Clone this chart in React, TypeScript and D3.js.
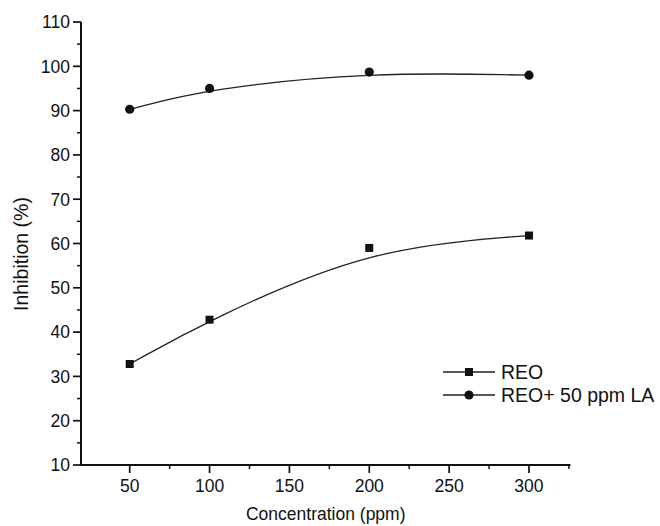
import React from "react";
import * as d3 from "d3";

// Concentration levels (ppm)
const concentrations = [50, 100, 200, 300];
// Inhibition (%) for rosemary essential oil alone
const reoValues = [32.8, 42.8, 59.0, 61.8];
// Inhibition (%) for REO combined with 50 ppm lauric acid
const reoLaValues = [90.3, 95.0, 98.7, 98.0];

const xTicks = [50, 100, 150, 200, 250, 300];
const xMinorTicks = [75, 125, 175, 225, 275, 325];
const yTicks = [10, 20, 30, 40, 50, 60, 70, 80, 90, 100, 110];
const yMinorTicks = [15, 25, 35, 45, 55, 65, 75, 85, 95, 105];

const seriesNames = ["REO", "REO+ 50 ppm LA"];

const W = 660;
const H = 526;

export default function App() {
  const x = d3.scaleLinear().domain([19.5, 326]).range([81, 570.5]);
  const y = d3.scaleLinear().domain([10, 110]).range([465, 22]);
  const x0 = x(19.5);

  // B-spline through the data points as control points
  const spline = d3
    .line<number>()
    .x((_, i) => x(concentrations[i]))
    .curve(d3.curveBasis);

  const pathReo = spline.y((d) => y(d))(reoValues) || "";
  const pathLa = spline.y((d) => y(d))(reoLaValues) || "";

  const font = "Liberation Sans, Arial, Helvetica, sans-serif";
  const ink = "#111";

  const legendX1 = 443;
  const legendX2 = 495;
  const legendRows = [372, 395];

  return (
    <svg
      width={W}
      height={H}
      style={{ position: "absolute", left: 0, top: 0, background: "#fff" }}
      fontFamily={font}
    >
      {/* smoothed connecting curves */}
      <path d={pathReo} fill="none" stroke="#222" strokeWidth={1.3} />
      <path d={pathLa} fill="none" stroke="#222" strokeWidth={1.3} />

      {/* data markers */}
      {concentrations.map((c, i) => (
        <rect
          key={"s" + c}
          x={x(c) - 4}
          y={y(reoValues[i]) - 4}
          width={8}
          height={8}
          fill={ink}
        />
      ))}
      {concentrations.map((c, i) => (
        <circle key={"c" + c} cx={x(c)} cy={y(reoLaValues[i])} r={4.6} fill={ink} />
      ))}

      {/* y axis */}
      <line x1={x0} x2={x0} y1={y(110)} y2={y(10)} stroke={ink} strokeWidth={2} />
      {yTicks.map((t) => (
        <g key={"yt" + t}>
          <line x1={x0 - 8} x2={x0} y1={y(t)} y2={y(t)} stroke={ink} strokeWidth={1.7} />
          <text
            x={x0 - 11}
            y={y(t)}
            dy="0.36em"
            textAnchor="end"
            fontSize={17.5}
            fill={ink}
          >
            {t}
          </text>
        </g>
      ))}
      {yMinorTicks.map((t) => (
        <line key={"ym" + t} x1={x0 - 4} x2={x0} y1={y(t)} y2={y(t)} stroke={ink} strokeWidth={1.5} />
      ))}

      {/* x axis */}
      <line x1={x0 - 1} x2={x(326)} y1={y(10)} y2={y(10)} stroke={ink} strokeWidth={2} />
      {xTicks.map((t) => (
        <g key={"xt" + t}>
          <line x1={x(t)} x2={x(t)} y1={y(10)} y2={y(10) + 8} stroke={ink} strokeWidth={1.7} />
          <text x={x(t)} y={y(10) + 26.5} textAnchor="middle" fontSize={17.5} fill={ink}>
            {t}
          </text>
        </g>
      ))}
      {xMinorTicks.map((t) => (
        <line key={"xm" + t} x1={x(t)} x2={x(t)} y1={y(10)} y2={y(10) + 4} stroke={ink} strokeWidth={1.5} />
      ))}

      {/* axis titles */}
      <text
        x={(x0 + x(326)) / 2}
        y={520}
        textAnchor="middle"
        fontSize={17.5}
        fill={ink}
      >
        Concentration (ppm)
      </text>
      <text
        transform={`translate(28, ${254}) rotate(-90)`}
        textAnchor="middle"
        fontSize={19.5}
        fill={ink}
      >
        Inhibition (%)
      </text>

      {/* legend */}
      {seriesNames.map((name, i) => {
        const ly = legendRows[i];
        const cx = (legendX1 + legendX2) / 2;
        return (
          <g key={name}>
            <line x1={legendX1} x2={legendX2} y1={ly} y2={ly} stroke="#222" strokeWidth={1.3} />
            {i === 0 ? (
              <rect x={cx - 4} y={ly - 4} width={8} height={8} fill={ink} />
            ) : (
              <circle cx={cx} cy={ly} r={4.6} fill={ink} />
            )}
            <text x={legendX2 + 6} y={ly} dy="0.36em" fontSize={19.5} fill={ink}>
              {name}
            </text>
          </g>
        );
      })}
    </svg>
  );
}
